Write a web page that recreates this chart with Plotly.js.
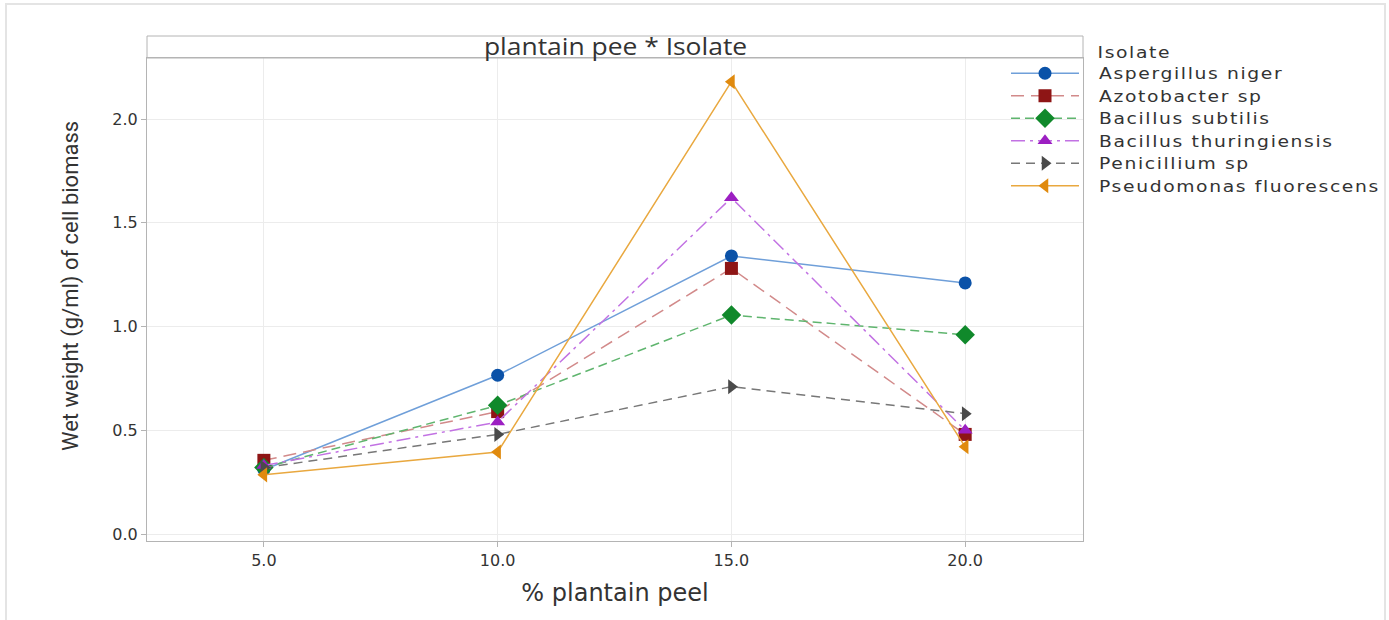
<!DOCTYPE html>
<html>
<head>
<meta charset="utf-8">
<script src="https://cdn.plot.ly/plotly-3.0.1.min.js"></script>
<style>
html,body{margin:0;padding:0;background:#fff;}
#chart{width:1389px;height:620px;}
#chart .legend .scrollbox{clip-path:none !important;}
#chart .legendtext{letter-spacing:1.3px;transform-box:fill-box;transform-origin:0 50%;transform:translateX(15px) scaleX(1.25);}
#chart .annotation[data-index="1"] .annotation-text{letter-spacing:1.3px;transform-box:fill-box;transform-origin:0 50%;transform:scaleX(1.25);}
#chart .annotation[data-index="0"] .annotation-text{transform-box:fill-box;transform-origin:50% 50%;transform:scaleX(1.15);}
</style>
</head>
<body>
<div id="chart"></div>
<script>
const peel = [5, 10, 15, 20];
const isolates = ["Aspergillus niger", "Azotobacter sp", "Bacillus subtilis", "Bacillus thuringiensis", "Penicillium sp", "Pseudomonas fluorescens"];
const aspergillus = [0.31, 0.765, 1.34, 1.21];
const azotobacter = [0.355, 0.59, 1.28, 0.48];
const subtilis = [0.32, 0.62, 1.055, 0.96];
const thuringiensis = [0.33, 0.54, 1.62, 0.50];
const penicillium = [0.32, 0.48, 0.71, 0.58];
const pseudomonas = [0.285, 0.395, 2.18, 0.42];
const yTicks = [0.0, 0.5, 1.0, 1.5, 2.0];
const xTicks = [5, 10, 15, 20];

const seriesValues = [aspergillus, azotobacter, subtilis, thuringiensis, penicillium, pseudomonas];
const styles = [
  {lc: "#6f9fd9", mc: "#0b52a8", dash: "solid", sym: "circle", size: 13},
  {lc: "#d28a8a", mc: "#8e1515", dash: "13px,7px", sym: "square", size: 13},
  {lc: "#5fb56e", mc: "#10892b", dash: "9px,5px", sym: "diamond", size: 15},
  {lc: "#c272e3", mc: "#9c1fc2", dash: "14px,5px,3px,5px", sym: "triangle-up", size: 13},
  {lc: "#777777", mc: "#4a4a4a", dash: "9px,6px", sym: "triangle-right", size: 13},
  {lc: "#e9a83f", mc: "#e08a0e", dash: "solid", sym: "triangle-left", size: 13}
];

const traces = isolates.map((name, i) => ({
  type: "scatter",
  mode: "lines+markers",
  name: name,
  x: peel,
  y: seriesValues[i],
  line: {color: styles[i].lc, width: 1.5, dash: styles[i].dash},
  marker: {color: styles[i].mc, symbol: styles[i].sym, size: styles[i].size, line: {width: 0}}
}));

const W = 936, H = 483, L = 147, T = 58;
const px = v => (v - L) / W;
const py = v => (T + H - v) / H;

const layout = {
  width: 1389, height: 620,
  margin: {l: 147, r: 306, t: 58, b: 79},
  paper_bgcolor: "#ffffff",
  plot_bgcolor: "#ffffff",
  showlegend: true,
  font: {family: "DejaVu Sans", color: "#333333"},
  xaxis: {
    range: [2.5, 22.52],
    tickvals: xTicks,
    ticktext: xTicks.map(v => v.toFixed(1)),
    showgrid: true, gridcolor: "#ececec", gridwidth: 1,
    showline: true, linecolor: "#b4b4b4", linewidth: 1, mirror: true,
    ticks: "outside", ticklen: 5, tickcolor: "#b4b4b4",
    tickfont: {family: "DejaVu Sans", size: 16, color: "#333333"},
    zeroline: false,
    title: {text: "% plantain peel", font: {family: "DejaVu Sans", size: 24, color: "#333333"}, standoff: 14}
  },
  yaxis: {
    range: [-0.0337, 2.294],
    tickvals: yTicks,
    ticktext: yTicks.map(v => v.toFixed(1)),
    showgrid: true, gridcolor: "#ececec", gridwidth: 1,
    showline: true, linecolor: "#b4b4b4", linewidth: 1, mirror: true,
    ticks: "outside", ticklen: 5, tickcolor: "#b4b4b4",
    tickfont: {family: "DejaVu Sans", size: 16, color: "#333333"},
    zeroline: false
  },
  legend: {
    x: px(1006), y: py(57), xanchor: "left", yanchor: "top",
    bgcolor: "rgba(0,0,0,0)",
    font: {family: "DejaVu Sans", size: 15, color: "#333333"},
    itemwidth: 68,
    tracegroupgap: 0
  },
  shapes: [
    {type: "rect", xref: "paper", yref: "paper", x0: 0, x1: 1, y0: 1, y1: py(36),
     line: {color: "#b4b4b4", width: 1}, fillcolor: "rgba(0,0,0,0)"},
    {type: "rect", xref: "paper", yref: "paper", x0: px(6), x1: px(1385), y0: py(640), y1: py(4),
     line: {color: "#e4e4e4", width: 2}, fillcolor: "rgba(0,0,0,0)", layer: "below"}
  ],
  annotations: [
    {xref: "paper", yref: "paper", x: 0.5, y: py(46), text: "plantain pee * Isolate", showarrow: false,
     font: {family: "Open Sans", size: 23, color: "#333333"}, xanchor: "center", yanchor: "middle"},
    {xref: "paper", yref: "paper", x: px(1100), y: py(53), text: "Isolate", showarrow: false,
     font: {family: "DejaVu Sans", size: 15, color: "#333333"}, xanchor: "left", yanchor: "middle"},
    {xref: "paper", yref: "paper", x: px(71), y: py(286), text: "Wet weight (g/ml) of cell biomass", showarrow: false,
     textangle: -90, font: {family: "Roboto", size: 22, color: "#333333"}, xanchor: "center", yanchor: "middle"}
  ]
};

Plotly.newPlot("chart", traces, layout, {staticPlot: true, displayModeBar: false});
</script>
</body>
</html>
